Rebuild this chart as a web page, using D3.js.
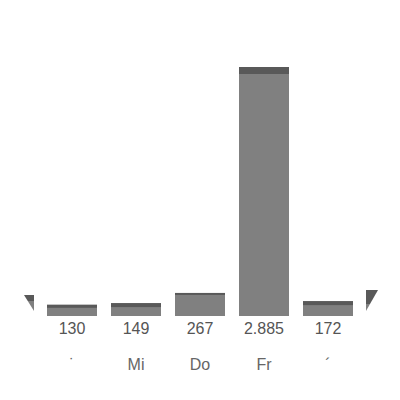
<!DOCTYPE html>
<html>
<head>
<meta charset="utf-8">
<script src="https://cdn.jsdelivr.net/npm/d3@7"></script>
<style>
  html, body { margin: 0; padding: 0; background: #fff; }
  svg { display: block; }
</style>
</head>
<body>
<svg width="400" height="400"></svg>
<script>
// categories (first and last labels are only partly visible in the original)
const days = ["˙", "Mi", "Do", "Fr", "´"];
const values = [130, 149, 267, 2885, 172];
// darker top part of each column
const tops = [35, 46, 23, 81, 46];
const valueLabels = ["130", "149", "267", "2.885", "172"];

const svgWidth = 400, svgHeight = 400;
const baseY = 316;

const svg = d3.select("svg")
    .attr("width", svgWidth)
    .attr("height", svgHeight);

const x = d3.scaleBand()
    .domain(days)
    .range([40, 360])
    .paddingInner(14 / 64)
    .paddingOuter(7 / 64);

const y = d3.scaleLinear()
    .domain([0, 2885])
    .range([baseY, 67]);

// corner wedges
const defs = svg.append("defs");
function wedgeGrad(id, split) {
    const g = defs.append("linearGradient")
        .attr("id", id)
        .attr("x1", 0).attr("y1", 0).attr("x2", 0).attr("y2", 1);
    g.append("stop").attr("offset", split).attr("stop-color", "#595959");
    g.append("stop").attr("offset", split).attr("stop-color", "#808080");
}
wedgeGrad("wl", 0.375);
wedgeGrad("wr", 0.66);

const left = x.range()[0] - 6, right = x.range()[1] + 6;
svg.append("path")
    .attr("d", d3.line()([[left - 10, baseY - 21], [left, baseY - 21], [left, baseY - 5]]) + "Z")
    .attr("fill", "url(#wl)");
svg.append("path")
    .attr("d", d3.line()([[right, baseY - 26], [right + 12, baseY - 26], [right, baseY - 5]]) + "Z")
    .attr("fill", "url(#wr)");

// columns
svg.selectAll("rect.bar")
    .data(values)
    .enter()
    .append("rect")
    .attr("class", "bar")
    .attr("x", (d, i) => x(days[i]))
    .attr("y", d => y(d))
    .attr("width", x.bandwidth())
    .attr("height", d => y(0) - y(d))
    .attr("fill", "#808080");

svg.selectAll("rect.top")
    .data(values)
    .enter()
    .append("rect")
    .attr("class", "top")
    .attr("x", (d, i) => x(days[i]))
    .attr("y", d => y(d))
    .attr("width", x.bandwidth())
    .attr("height", (d, i) => y(d - tops[i]) - y(d))
    .attr("fill", "#595959");

// value labels
svg.selectAll("text.val")
    .data(valueLabels)
    .enter()
    .append("text")
    .attr("class", "val")
    .attr("x", (d, i) => x(days[i]) + x.bandwidth() / 2)
    .attr("y", baseY + 18)
    .attr("text-anchor", "middle")
    .style("font-family", "Liberation Sans, Arial, sans-serif")
    .style("font-size", "16px")
    .style("fill", "#555")
    .text(d => d);

// day labels
svg.selectAll("text.day")
    .data(days)
    .enter()
    .append("text")
    .attr("class", "day")
    .attr("x", d => x(d) + x.bandwidth() / 2)
    .attr("y", baseY + 54)
    .attr("text-anchor", "middle")
    .style("font-family", "Liberation Sans, Arial, sans-serif")
    .style("font-size", "16px")
    .style("fill", "#666")
    .text(d => d);
</script>
</body>
</html>
